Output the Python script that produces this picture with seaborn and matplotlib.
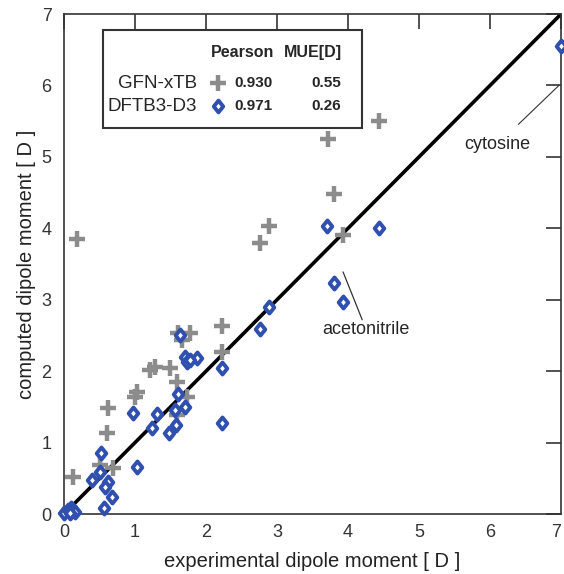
import matplotlib
matplotlib.use('Agg')
import matplotlib.pyplot as plt
from matplotlib.patches import Rectangle
from matplotlib.lines import Line2D
from matplotlib.path import Path
import numpy as np
import pandas as pd
import seaborn as sns

# GFN-xTB (grey crosses): experimental vs computed dipole moment [D]
gfn_exp = [0.13, 0.18, 0.5, 0.69, 0.6, 0.62, 1.0, 1.03, 1.21, 1.28, 1.49, 1.59, 1.6,
           1.66, 1.77, 1.73, 1.59, 2.22, 2.22, 2.76, 2.89, 3.72, 4.44, 3.8, 3.93]
gfn_calc = [0.52, 3.85, 0.69, 0.64, 1.13, 1.48, 1.64, 1.71, 2.02, 2.06, 2.04, 1.85, 2.53,
            2.44, 2.53, 1.64, 1.39, 2.63, 2.27, 3.8, 4.03, 5.25, 5.5, 4.48, 3.9]

# DFTB3-D3 (blue diamonds)
dftb_exp = [7.0, 3.7, 4.44, 3.8, 3.93, 2.89, 2.76, 1.63, 1.7, 1.73, 1.87, 1.78, 2.22,
            2.22, 1.61, 1.7, 1.56, 1.31, 1.24, 1.58, 1.48, 0.97, 1.03, 0.52, 0.51,
            0.39, 0.62, 0.58, 0.68, 0.56, 0.0, 0.05, 0.1, 0.12, 0.15, 0.08]
dftb_calc = [6.55, 4.03, 4.0, 3.23, 2.97, 2.9, 2.59, 2.51, 2.2, 2.13, 2.18, 2.15, 2.04,
             1.27, 1.68, 1.5, 1.46, 1.4, 1.2, 1.25, 1.13, 1.41, 0.66, 0.85, 0.59,
             0.48, 0.45, 0.38, 0.24, 0.08, 0.02, 0.05, 0.08, 0.05, 0.03, 0.02]

methods = ['GFN-xTB', 'DFTB3-D3']
pearson = ['0.930', '0.971']
mue = ['0.55', '0.26']
ticks = [0, 1, 2, 3, 4, 5, 6, 7]

grey = '#8c8c8c'
blue = '#3050b0'

# slightly squat diamond like the original
diamond = Path([(0, 1), (0.8, 0), (0, -1), (-0.8, 0), (0, 1)],
               [Path.MOVETO, Path.LINETO, Path.LINETO, Path.LINETO, Path.CLOSEPOLY])

sns.set_style('white')
plt.rcParams['font.family'] = ['Liberation Sans', 'DejaVu Sans']

df_gfn = pd.DataFrame({'exp': gfn_exp, 'calc': gfn_calc})
df_dftb = pd.DataFrame({'exp': dftb_exp, 'calc': dftb_calc})

fig = plt.figure(figsize=(5.64, 5.74), dpi=100)
ax = fig.add_axes([0.1135, 0.1045, 0.8812, 0.871])

ax.plot([0, 7], [0, 7], color='black', lw=2.6, zorder=2)
sns.scatterplot(data=df_gfn, x='exp', y='calc', marker='+', s=140, color=grey,
                linewidth=3.2, ax=ax, zorder=3)
sns.scatterplot(data=df_dftb, x='exp', y='calc', marker=diamond, s=75, facecolor='white',
                edgecolor=blue, linewidth=2.8, ax=ax, zorder=4, clip_on=False)

ax.set_xlim(0, 7)
ax.set_ylim(0, 7)
ax.set_xticks(ticks)
ax.set_yticks(ticks)
ax.tick_params(direction='in', length=11, width=1.2, top=True, right=True,
               labelsize=13, colors='#333333', pad=7)
ax.tick_params(axis='y', pad=9)
ax.get_xticklabels()[-1].set_horizontalalignment('right')
for sp in ax.spines.values():
    sp.set_color('#333333')
    sp.set_linewidth(1.2)
ax.set_xlabel('experimental dipole moment [ D ]', fontsize=14.5, color='#222222', labelpad=8)
ax.set_ylabel('computed dipole moment [ D ]', fontsize=14.5, color='#222222', labelpad=4)

# legend-like table
ax.add_patch(Rectangle((0.078, 0.772), 0.522, 0.196, transform=ax.transAxes,
                       facecolor='white', edgecolor='#333333', lw=1.5, zorder=5))
ax.text(0.36, 0.924, 'Pearson', transform=ax.transAxes, ha='center', va='center',
        fontsize=11.5, fontweight='bold', zorder=6)
ax.text(0.50, 0.924, 'MUE[D]', transform=ax.transAxes, ha='center', va='center',
        fontsize=11.5, fontweight='bold', zorder=6)
row_y = [0.862, 0.816]
styles = [dict(marker='+', ms=12, mew=3.2, color=grey),
          dict(marker=diamond, ms=8.5, mew=2.8, mfc='white', mec=blue)]
for name, p, m, yy, st in zip(methods, pearson, mue, row_y, styles):
    ax.text(0.268, yy, name, transform=ax.transAxes, ha='right', va='center',
            fontsize=13.5, zorder=6)
    ax.add_line(Line2D([0.31], [yy], transform=ax.transAxes, ls='none', zorder=6, **st))
    ax.text(0.382, yy, p, transform=ax.transAxes, ha='center', va='center',
            fontsize=11, fontweight='bold', zorder=6)
    ax.text(0.557, yy, m, transform=ax.transAxes, ha='right', va='center',
            fontsize=11, fontweight='bold', zorder=6)

# annotations
ax.annotate('cytosine', xy=(6.97, 6.0), xytext=(6.1, 5.17), ha='center', va='center',
            fontsize=13, arrowprops=dict(arrowstyle='-', lw=0.8, color='#333333',
                                         shrinkA=9, shrinkB=0))
ax.plot([3.93, 4.2], [3.39, 2.72], color='#333333', lw=0.9)
ax.text(4.25, 2.58, 'acetonitrile', ha='center', va='center', fontsize=13)

fig.savefig('out.png', dpi=100)
